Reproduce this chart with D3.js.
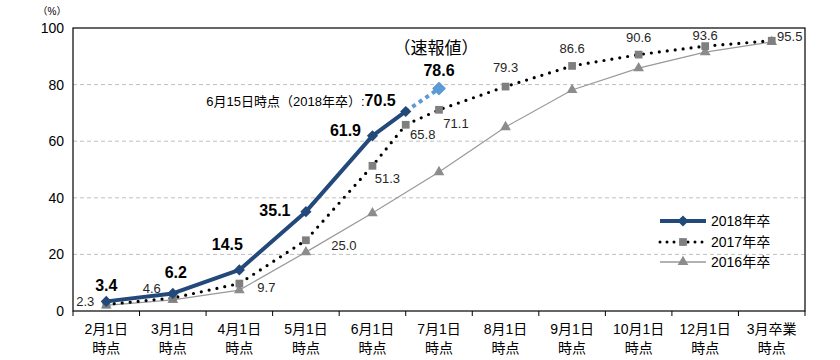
<!DOCTYPE html>
<html>
<head>
<meta charset="utf-8">
<script src="https://cdn.jsdelivr.net/npm/d3@7"></script>
<style>
  body { margin: 0; background: #fff; }
  text { font-family: "Liberation Sans", Arial, "Noto Sans CJK JP", sans-serif; }
</style>
</head>
<body>
<svg id="chart" width="840" height="360"></svg>
<script>
// categories (x axis), two lines each
const categories = ["2月1日", "3月1日", "4月1日", "5月1日", "6月1日", "7月1日", "8月1日", "9月1日", "10月1日", "12月1日", "3月卒業"];
const catSub = "時点";
const yTicks = [0, 20, 40, 60, 80, 100];

// 2018 (index 4.5 = 6月15日時点)
const pos2018 = [0, 1, 2, 3, 4, 4.5];
const vals2018 = [3.4, 6.2, 14.5, 35.1, 61.9, 70.5];
const prelimPos = 5;
const prelimVal = 78.6;

// 2017
const pos2017 = [0, 1, 2, 3, 4, 4.5, 5, 6, 7, 8, 9, 10];
const vals2017 = [2.3, 4.6, 9.7, 25.0, 51.3, 65.8, 71.1, 79.3, 86.6, 90.6, 93.6, 95.5];

// 2016
const pos2016 = [0, 1, 2, 3, 4, 5, 6, 7, 8, 9, 10];
const vals2016 = [2.0, 3.9, 7.4, 20.8, 34.6, 49.1, 65.0, 78.1, 85.8, 91.5, 95.1];

const svg = d3.select('#chart');
const pLeft = 73, pRight = 805, pTop = 28, pBottom = 311;

const band = d3.scaleBand().domain(categories).range([pLeft, pRight]);
const x = d3.scaleLinear().domain([-0.5, categories.length - 0.5]).range([pLeft, pRight]);
const y = d3.scaleLinear().domain([0, 100]).range([pBottom, pTop]);

const dark = '#23497a', light = '#5b9bd5', gray = '#8c8c8c';

// gridlines
svg.append('g').selectAll('line')
	.data(yTicks.filter(t => t > 0 && t < 100))
	.enter().append('line')
	.attr('x1', pLeft).attr('x2', pRight)
	.attr('y1', d => y(d)).attr('y2', d => y(d))
	.attr('stroke', '#bfbfbf').attr('stroke-dasharray', '4,3');

// frame
svg.append('rect').attr('x', pLeft).attr('y', pTop)
	.attr('width', pRight - pLeft).attr('height', pBottom - pTop)
	.attr('fill', 'none').attr('stroke', '#000').attr('stroke-width', 1.2);

// y labels
svg.append('g').selectAll('text')
	.data(yTicks).enter().append('text')
	.attr('x', 64).attr('y', d => y(d))
	.attr('dy', '0.36em').attr('text-anchor', 'end')
	.attr('font-size', 14).attr('fill', '#000')
	.text(d => d);

svg.append('text').attr('x', 52).attr('y', 15)
	.attr('text-anchor', 'middle').attr('font-size', 10)
	.text('（%）');

// x axis ticks
const boundaries = categories.map(c => band(c)).concat([pRight]);
svg.append('g').selectAll('line')
	.data(boundaries).enter().append('line')
	.attr('x1', d => d).attr('x2', d => d)
	.attr('y1', pBottom).attr('y2', pBottom + 5)
	.attr('stroke', '#000');

const xl = svg.append('g').selectAll('g')
	.data(categories).enter().append('g')
	.attr('transform', d => `translate(${band(d) + band.bandwidth() / 2},0)`);
xl.append('text').attr('y', 334).attr('text-anchor', 'middle')
	.attr('font-size', 14).text(d => d);
xl.append('text').attr('y', 353).attr('text-anchor', 'middle')
	.attr('font-size', 14).text(catSub);

const line = d3.line().x(d => x(d[0])).y(d => y(d[1]));

// 2016
const d2016 = pos2016.map((p, i) => [p, vals2016[i]]);
svg.append('path').datum(d2016).attr('d', line)
	.attr('fill', 'none').attr('stroke', '#999').attr('stroke-width', 1.2);
const tri = d3.symbol().type(d3.symbolTriangle).size(50);
svg.append('g').selectAll('path').data(d2016).enter().append('path')
	.attr('d', tri).attr('fill', gray)
	.attr('transform', d => `translate(${x(d[0])},${y(d[1])})`);

// 2017
const d2017 = pos2017.map((p, i) => [p, vals2017[i]]);
svg.append('path').datum(d2017).attr('d', line)
	.attr('fill', 'none').attr('stroke', '#000').attr('stroke-width', 3.2)
	.attr('stroke-linecap', 'round').attr('stroke-dasharray', '0,8');
const sq = d3.symbol().type(d3.symbolSquare).size(60);
svg.append('g').selectAll('path').data(d2017).enter().append('path')
	.attr('d', sq).attr('fill', '#7f7f7f')
	.attr('transform', d => `translate(${x(d[0])},${y(d[1])})`);

// 2018 preliminary
const dia = d3.symbol().type(d3.symbolDiamond2).size(80);
svg.append('path').datum([[pos2018[pos2018.length - 1], vals2018[vals2018.length - 1]], [prelimPos, prelimVal]])
	.attr('d', line).attr('fill', 'none').attr('stroke', light)
	.attr('stroke-width', 4).attr('stroke-dasharray', '4,4');
svg.append('path').attr('d', dia)
	.attr('fill', light).attr('stroke', light).attr('stroke-width', 2).attr('stroke-linejoin', 'round')
	.attr('transform', `translate(${x(prelimPos)},${y(prelimVal)})`);

// 2018
const d2018 = pos2018.map((p, i) => [p, vals2018[i]]);
svg.append('path').datum(d2018).attr('d', line)
	.attr('fill', 'none').attr('stroke', dark).attr('stroke-width', 4)
	.attr('stroke-linejoin', 'round');
svg.append('g').selectAll('path').data(d2018).enter().append('path')
	.attr('d', dia).attr('fill', dark)
	.attr('transform', d => `translate(${x(d[0])},${y(d[1])})`);

// 2017 labels
const off2017 = [[-21, -3], [-21, -10], [27, 4], [38, 5], [15, 12], [17, 10], [17, 14], [0, -19], [0, -18], [0, -17], [0, -11], [18, -4]];
svg.append('g').selectAll('text').data(d2017).enter().append('text')
	.attr('x', (d, i) => x(d[0]) + off2017[i][0])
	.attr('y', (d, i) => y(d[1]) + off2017[i][1])
	.attr('dy', '0.36em').attr('text-anchor', 'middle')
	.attr('font-size', 13).attr('fill', '#262626')
	.text(d => d[1].toFixed(1));

// 2018 labels (last one handled separately)
const off2018 = [[0, -16], [3, -21], [-12, -26], [-31, -1], [-27, -6]];
svg.append('g').selectAll('text').data(d2018.slice(0, 5)).enter().append('text')
	.attr('x', (d, i) => x(d[0]) + off2018[i][0])
	.attr('y', (d, i) => y(d[1]) + off2018[i][1])
	.attr('dy', '0.36em').attr('text-anchor', 'middle')
	.attr('font-size', 16).attr('font-weight', 'bold').attr('fill', '#000')
	.text(d => d[1].toFixed(1));

const last = d2018[d2018.length - 1];
const lastLabel = svg.append('text')
	.attr('x', x(last[0]) - 10).attr('y', y(last[1]) - 11)
	.attr('dy', '0.36em').attr('text-anchor', 'end').attr('fill', '#000');
lastLabel.append('tspan').attr('font-size', 13).text('6月15日時点（2018年卒）:');
lastLabel.append('tspan').attr('font-size', 16).attr('font-weight', 'bold').text(last[1].toFixed(1));

svg.append('text').attr('x', x(prelimPos)).attr('y', y(prelimVal) - 18)
	.attr('dy', '0.36em').attr('text-anchor', 'middle')
	.attr('font-size', 16).attr('font-weight', 'bold').text(prelimVal.toFixed(1));
svg.append('text').attr('x', x(prelimPos) - 3).attr('y', 48)
	.attr('dy', '0.36em').attr('text-anchor', 'middle')
	.attr('font-size', 17).text('（速報値）');

// legend
const legend = [
	{ name: '2018年卒', y: 221 },
	{ name: '2017年卒', y: 242 },
	{ name: '2016年卒', y: 262 }
];
const lg = svg.append('g');
lg.append('line').attr('x1', 660).attr('x2', 706).attr('y1', legend[0].y).attr('y2', legend[0].y)
	.attr('stroke', dark).attr('stroke-width', 4);
lg.append('path').attr('d', dia).attr('fill', dark).attr('transform', `translate(683,${legend[0].y})`);
lg.append('line').attr('x1', 660).attr('x2', 706).attr('y1', legend[1].y).attr('y2', legend[1].y)
	.attr('stroke', '#000').attr('stroke-width', 3).attr('stroke-linecap', 'round').attr('stroke-dasharray', '0,7');
lg.append('path').attr('d', sq).attr('fill', '#7f7f7f').attr('transform', `translate(683,${legend[1].y})`);
lg.append('line').attr('x1', 660).attr('x2', 706).attr('y1', legend[2].y).attr('y2', legend[2].y)
	.attr('stroke', '#999').attr('stroke-width', 1.5);
lg.append('path').attr('d', tri).attr('fill', gray).attr('transform', `translate(683,${legend[2].y})`);
lg.selectAll('text').data(legend).enter().append('text')
	.attr('x', 711).attr('y', d => d.y).attr('dy', '0.36em')
	.attr('font-size', 14).text(d => d.name);
</script>
</body>
</html>
